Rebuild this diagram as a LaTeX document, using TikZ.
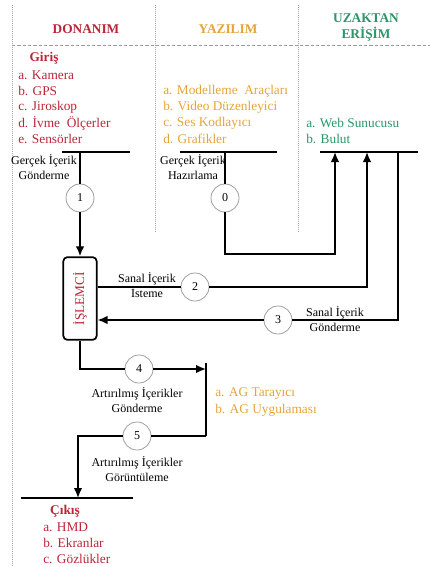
\documentclass[tikz,border=0pt]{standalone}
\usepackage{fontspec}
\setmainfont{Liberation Serif}
\usetikzlibrary{arrows.meta}
\definecolor{hw}{RGB}{185,38,55}
\definecolor{sw}{RGB}{228,165,55}
\definecolor{net}{RGB}{40,150,105}

\tikzset{
  lane/.style={densely dotted,gray!70,line width=0.5pt},
  head/.style={font=\fontsize{10}{12}\selectfont\bfseries},
  item/.style={anchor=west,inner sep=0pt,font=\fontsize{10}{12}\selectfont},
  lbl/.style={align=center,inner sep=0pt,font=\fontsize{9}{11.3}\selectfont},
  num/.style={circle,draw=gray!75,line width=0.6pt,fill=white,minimum size=21pt,inner sep=0pt,font=\fontsize{9}{11}\selectfont},
  bar/.style={line width=2pt},
  flow/.style={line width=1.3pt},
  tip/.style={-{Latex[length=7.5pt,width=6.5pt]}}
}

\begin{document}
\begin{tikzpicture}[x=0.75pt,y=-0.75pt]
  \useasboundingbox (0,0) rectangle (430,567);

  % lanes
  \draw[lane] (12,5) -- (12,567);
  \draw[lane] (155,5) -- (155,232);
  \draw[lane] (298,5) -- (298,232);
  \draw[dashed,gray!80,line width=0.5pt,dash pattern=on 2.5pt off 1.5pt] (12,45) -- (430,45);

  \node[head,hw] (hwhead) at (86,29) {DONANIM};
  \node[head,sw] (swhead) at (228,29) {YAZILIM};
  \node[head,net,align=center] (nethead) at (366,27.5) {UZAKTAN\\ERİŞİM};

  % input devices
  \node[head,hw] (giris) at (44,58) {Giriş};
  \foreach \t [count=\i] in {a. Kamera, b. GPS, c. Jiroskop, d. İvme\ \ Ölçerler, e. Sensörler}
     \node[item,hw] (in\i) at (18,59+16*\i) {\t};
  \foreach \t [count=\i] in {a. Modelleme\ \ Araçları, b. Video Düzenleyici, c. Ses Kodlayıcı, d. Grafikler}
     \node[item,sw] (sw\i) at (163,75+16*\i) {\t};
  \foreach \t [count=\i] in {a. Web Sunucusu, b. Bulut}
     \node[item,net] (web\i) at (306,107+16*\i) {\t};

  \draw[bar] (62,152) -- (130,152);   % hardware
  \draw[bar] (180,152) -- (277,152);  % software
  \draw[bar] (320,152) -- (418,152);  % server / cloud
  \coordinate (hwbar) at (80,152);
  \coordinate (swbar) at (225,152);
  \coordinate (up0) at (335,152);
  \coordinate (up2) at (367,152);
  \coordinate (down3) at (398,152);
  \coordinate (k0) at (335,254);

  % steps
  \node[num] (c1) at (80,198) {1};
  \node[num] (c0) at (225,198) {0};
  \node[draw,line width=1.3pt,rounded corners=3pt,minimum width=25pt,minimum height=62pt,inner sep=0pt] (cpu) at (80,298.5)
     {\rotatebox{90}{\color{hw}\fontsize{10}{12}\selectfont İŞLEMCİ}};
  \node[num] (c2) at (195,287) {2};
  \node[num] (c3) at (278,320) {3};
  \node[num] (c4) at (139,369) {4};
  \node[num] (c5) at (137,436) {5};

  \node[lbl] (l1) at (44,167.5) {Gerçek İçerik\\Gönderme};
  \node[lbl] (l0) at (193,167.5) {Gerçek İçerik\\Hazırlama};
  \node[lbl] (l2) at (147,285) {Sanal İçerik\\İsteme};
  \node[lbl] (l3) at (335,319) {Sanal İçerik\\Gönderme};
  \node[lbl] (l4) at (137,400) {Artırılmış İçerikler\\Gönderme};
  \node[lbl] (l5) at (137,469.5) {Artırılmış İçerikler\\Görüntüleme};

  \draw[flow] (hwbar) -- (c1);
  \draw[flow,tip] (c1) -- (cpu);
  \draw[flow] (swbar) -- (c0);
  \draw[flow,tip] (c0) |- (k0) -- (up0);
  \draw[flow] (cpu.east |- c2) -- (c2);
  \draw[flow,tip] (c2) -| (up2);
  \draw[flow] (down3) |- (c3);
  \draw[flow,tip] (c3) -- (cpu.east |- c3);

  % AR side
  \coordinate (ag4) at (206,369);
  \coordinate (ag5) at (206,436);
  \draw[flow] (206,363) -- (ag5);
  \foreach \t [count=\i] in {a. AG Tarayıcı, b. AG Uygulaması}
     \node[item,sw] (ag\i) at (215,378+16*\i) {\t};
  \draw[flow] (cpu) |- (c4);
  \draw[flow,tip] (c4) -- (ag4);
  \draw[flow] (ag5) -- (c5);
  \coordinate (outbar) at (78,498);
  \draw[flow,tip] (c5) -| (outbar);

  % output devices
  \draw[bar] (21,498) -- (133,498);
  \node[head,hw] (cikis) at (65,511) {Çıkış};
  \foreach \t [count=\i] in {a. HMD, b. Ekranlar, c. Gözlükler}
     \node[item,hw] (out\i) at (43,511+16*\i) {\t};

\end{tikzpicture}
\end{document}
